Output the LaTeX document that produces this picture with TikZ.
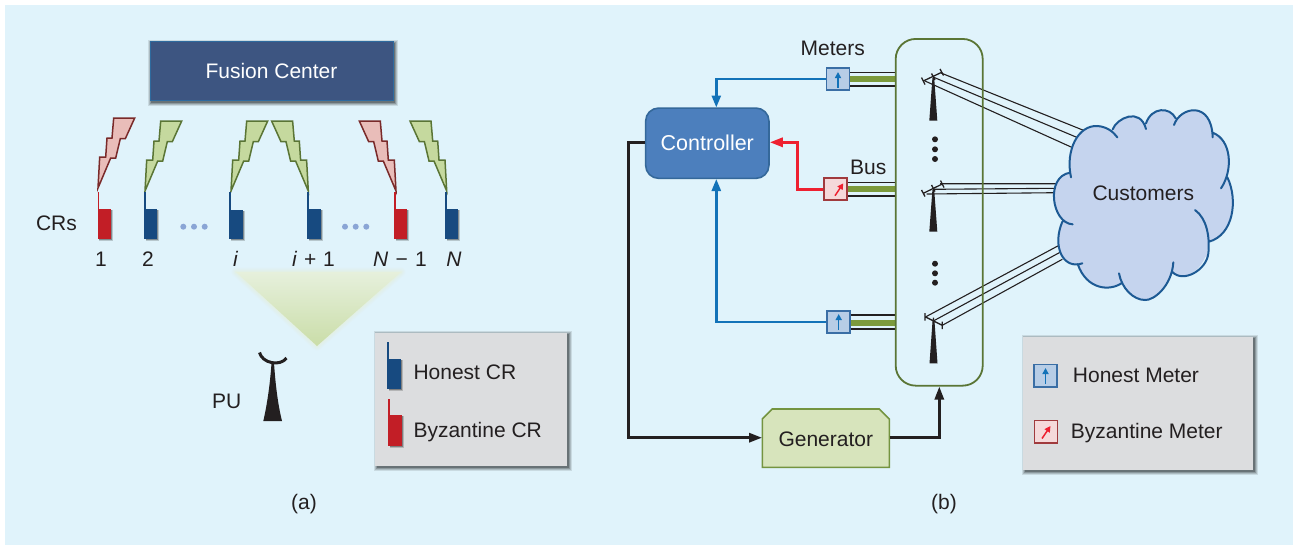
\documentclass[tikz,border=0pt]{standalone}
\usepackage{fontspec}
\setmainfont{Liberation Sans}
\usetikzlibrary{arrows.meta,calc}
\definecolor{panel}{HTML}{E0F3FB}
\definecolor{ink}{HTML}{231F20}
\definecolor{crblue}{HTML}{174A80}
\definecolor{crred}{HTML}{C21E26}
\definecolor{dotblue}{HTML}{8AA5D5}
\definecolor{fcfill}{HTML}{3D5581}
\definecolor{fcdraw}{HTML}{2E6A9E}
\definecolor{boltgf}{HTML}{C5D99E}
\definecolor{boltgd}{HTML}{5A7535}
\definecolor{boltrf}{HTML}{E9BDB9}
\definecolor{boltrd}{HTML}{7A2A2A}
\definecolor{legendgray}{HTML}{DCDDDF}
\definecolor{mhf}{HTML}{B7CDE6}
\definecolor{mhd}{HTML}{3A6EA5}
\definecolor{mbf}{HTML}{F5D9DA}
\definecolor{mbd}{HTML}{A03A3D}
\definecolor{wireblue}{HTML}{1272B8}
\definecolor{wirered}{HTML}{EE2030}
\definecolor{busgreen}{HTML}{7C9A3C}
\definecolor{ctrlfill}{HTML}{4C7FBD}
\definecolor{ctrldraw}{HTML}{34689A}
\definecolor{genfill}{HTML}{D7E4BC}
\definecolor{gendraw}{HTML}{749440}
\definecolor{cloudfill}{HTML}{C5D4EE}
\definecolor{clouddraw}{HTML}{1D5A94}
\definecolor{beamtop}{HTML}{E6F0DC}
\definecolor{beambot}{HTML}{CADDA8}
\tikzset{
  lab/.style={font=\fontsize{21}{25}\selectfont,text=ink,inner sep=0pt},
  meterh/.style={draw=mhd,fill=mhf,line width=1.8pt,minimum width=23pt,minimum height=22.5pt,inner sep=0pt},
  meterb/.style={draw=mbd,fill=mbf,line width=1.8pt,minimum width=23pt,minimum height=22.5pt,inner sep=0pt},
  upa/.style={wireblue,line width=1.5pt,-{Triangle[length=6pt,width=6pt]}},
  diaga/.style={wirered,line width=1.5pt,-{Triangle[length=6pt,width=6pt]}},
  busline/.style={ink,line width=1.1pt},
  busthick/.style={busgreen,line width=6pt},
  wireb/.style={wireblue,line width=2.5pt,-{Triangle[length=12pt,width=9pt]}},
  wirer/.style={wirered,line width=3pt,-{Triangle[length=13pt,width=9pt]}},
  wirek/.style={ink,line width=2.8pt,-{Triangle[length=13pt,width=9pt]}},
  linewire/.style={ink,line width=1.1pt},
  arm/.style={ink,line width=1.3pt},
}
\newcommand{\softshadow}[4]{%
  \foreach \w/\op in {3.5/.10,2.5/.14,1.5/.18,.5/.25}{
    \fill[black,opacity=\op] ($(#1,#2)+(-\w+1.5,-\w+1.5)$) rectangle ($(#3,#4)+(\w+1.5,\w+1.5)$);
  }}
% device: left x, antenna top y, body top y, bottom y, colour
\newcommand{\device}[5]{%
  \foreach \w/\op in {2.2/.18,1.2/.3}{
    \fill[black,opacity=\op] (#1+1.5,#3+1) rectangle (#1+13.2+\w,#4+\w);}
  \fill[#5] (#1,#3) rectangle (#1+13.2,#4);
  \fill[#5] (#1,#2) rectangle (#1+1.7,#3);
}
% bolt: tip x, tip y, direction (+1 or -1), fill, draw
\newcommand{\bolt}[5]{%
  \draw[fill=#4,draw=#5,line width=1.5pt,line join=miter,shift={(#1,#2)},xscale=#3]
   (0,0)--(1.7,-31)--(7.7,-31)--(9,-50)--(14,-50)--(15.7,-70)--(36.7,-70)
   --(27.3,-49.3)--(22.3,-49.3)--(17.7,-30)--(12.7,-30)--cycle;
}
\newcommand{\tower}[3]{% top x, top y, base y
  \fill[ink] (#1-.9,#2) -- (#1+.9,#2) -- (#1+4,#3) -- (#1-4,#3) -- cycle;
}
\begin{document}
\begin{tikzpicture}[x=1pt,y=-1pt]
\useasboundingbox (0,0) rectangle (1297,546);
\fill[white] (0,0) rectangle (1297,546);
\fill[panel] (5,5) rectangle (1293,545);

% ---------- panel (a)
\softshadow{150}{42}{393}{101}
\node[draw=fcdraw,fill=fcfill,line width=1pt,minimum width=243pt,minimum height=59pt,inner sep=0pt,
      font=\fontsize{21}{25}\selectfont,text=white] (fc) at (271.5,71) {Fusion Center};

\bolt{98}{188}{1}{boltrf}{boltrd}
\bolt{145}{191}{1}{boltgf}{boltgd}
\bolt{231}{191}{1}{boltgf}{boltgd}
\bolt{308.3}{191}{-1}{boltgf}{boltgd}
\bolt{396}{191}{-1}{boltrf}{boltrd}
\bolt{446.7}{191}{-1}{boltgf}{boltgd}

\device{97.7}{192}{209}{239}{crred}
\device{144}{192}{209}{239}{crblue}
\device{229.3}{192}{209.5}{239}{crblue}
\device{307.3}{192}{209}{239}{crblue}
\device{394}{192}{209}{239}{crred}
\device{445}{192}{209}{239}{crblue}

\foreach \x in {183.3,194,204.7,345,355.7,366.3}{\fill[dotblue] (\x,226.7) circle (3);}

\node[lab] (crs) at (56.5,223) {CRs};
\node[lab] (n1) at (101,259) {1};
\node[lab] (n2) at (148,259) {2};
\node[lab] (ni) at (235.7,259) {\textit{i}};
\node[lab] (nip) at (313.5,259) {\textit{i}\hspace{1pt} + \hspace{1pt}1};
\node[lab] (nNm) at (400,259) {\textit{N}\hspace{1.5pt} − \hspace{1.5pt}1};
\node[lab] (nN) at (454,259) {\textit{N}};

% beam
\foreach \w/\op in {9/.10,7/.14,5/.18,3/.24,1.5/.3}{
  \draw[line join=round,line width=\w pt,draw=beamtop,opacity=\op] (236,272)--(401,272)--(317,346)--cycle;}
\shade[top color=beamtop,bottom color=beambot] (236,272)--(401,272)--(317,346)--cycle;

% PU
\draw[ink,line width=3pt] (259.5,352.5) .. controls (262,363) and (280,367) .. (286.5,358);
\fill[ink] (271.5,363) -- (274,363) .. controls (275.5,385) and (278,405) .. (282,421) -- (263.3,421) .. controls (267,405) and (270,385) .. (271.5,363) -- cycle;
\node[lab] (pu) at (226.7,401.7) {PU};

% legend a
\softshadow{375.5}{333}{567}{466}
\fill[legendgray] (375,332.7) rectangle (567,466);
\device{387.3}{341.7}{358.7}{389}{crblue}
\device{388.3}{399}{415.3}{445.7}{crred}
\node[lab,anchor=west] (lh) at (413.3,372.3) {Honest CR};
\node[lab,anchor=west] (lb) at (413.3,431.7) {Byzantine CR};

\node[lab] (capa) at (304,504) {(a)};
\node[lab] (capb) at (944,504) {(b)};

% ---------- panel (b)
% bus lines
\draw[busline] (850,72.3)--(895.7,72.3) (850,86)--(895.7,86);
\draw[busthick] (850,79.3)--(895.7,79.3);
\draw[busline] (847,182.3)--(895.7,182.3) (847,196)--(895.7,196);
\draw[busthick] (847,189.3)--(895.7,189.3);
\draw[busline] (850,315)--(895.7,315) (850,329)--(895.7,329);
\draw[busthick] (850,322.7)--(895.7,322.7);

% power lines
\draw[linewire] (941,73)--(1082.7,130) (933,77)--(1076.7,137.3) (925,81)--(1071.7,147.3);
\draw[linewire] (940,183.7)--(1058.3,183.7) (933,189.3)--(1056.7,188.3) (926.7,194)--(1056,192.7);
\draw[linewire] (926,316.7)--(1058.3,245.7) (933.3,321)--(1060,252.3) (942.3,325.3)--(1062.3,259.3);

\node[draw=boltgd,line width=1.8pt,rounded corners=20pt,minimum width=87pt,minimum height=346.7pt,inner sep=0pt] (bus) at (939.2,212.3) {};

% towers
\tower{933.3}{78}{120.7}
\tower{933.3}{190}{231.7}
\tower{933.5}{320}{363.3}
\draw[arm] (923.3,81)--(941.7,72.3) (921.5,77.5)--(925,84.5) (940,69)--(943.5,75.5) (931.5,73.5)--(935,80);
\draw[arm] (923.3,193.3)--(942.3,184) (921.5,190)--(925,196.5) (940.5,180.5)--(944,187.5) (931.5,185)--(935,191.5);
\draw[arm] (925,316.7)--(942.3,325.3) (925,313)--(925,320.5) (942.3,321.5)--(942.3,329) (933.5,317.5)--(933.5,325);

\foreach \y in {139.3,149.3,159,263.7,273.3,282.7}{\fill[ink] (935,\y) circle (3);}

% meters
\node[meterh] (m1) at (838,79) {};
\node[meterb] (m2) at (835.3,189) {};
\node[meterh] (m3) at (838.7,322) {};
\draw[upa] (838,87.7)--(838,72);
\draw[diaga] (835,195.7)--(843.3,183.3);
\draw[upa] (838.7,330)--(838.7,314);

\node[lab] (meters) at (832.8,48.3) {Meters};
\node[lab] (busl) at (868.3,167.3) {Bus};

% controller
\node[draw=ctrldraw,fill=ctrlfill,line width=1.6pt,rounded corners=13pt,minimum width=123.3pt,minimum height=70.3pt,
  inner sep=0pt,font=\fontsize{21.5}{25}\selectfont,text=white] (ctrl) at (707.3,143.2) {Controller};

% generator
\draw[fill=genfill,draw=gendraw,line width=1.6pt] (762.3,467.3)--(762.3,419)--(772.3,409)--(879.3,409)--(889.3,419)--(889.3,467.3)--cycle;
\node[lab,minimum width=127pt,minimum height=58pt] (gen) at (825.8,439) {Generator};

% connectors
\coordinate (ctop) at (716.3,107.5);
\coordinate (cbot) at (716.3,179);
\coordinate (bustip) at (939.3,386.5);
\coordinate (kbend) at (628.3,437.7);
\draw[wireb] (m1.west) -| (ctop);
\draw[wireb] (m3.west) -| (cbot);
\draw[wirer] (m2.west) -| (797.7,142.3) -- (ctrl.east |- 0,142.3);
\draw[wirek] (ctrl.west |- 0,142.7) -| (kbend) -- (gen.west |- kbend);
\draw[wirek] (gen.east |- kbend) -| (bustip);

% cloud
\begin{scope}[xshift=1010pt,yshift=-90pt,x=.33333pt,y=-.33333pt]
\fill[cloudfill] (183,262) .. controls (165,180) and (205,105) .. (262,108) .. controls (290,110) and (310,125) .. (322,142)
 -- (308,118) .. controls (320,85) and (390,50) .. (408,117)
 -- (408,100) .. controls (425,50) and (480,50) .. (497,85)
 -- (492,105) .. controls (510,50) and (605,30) .. (608,142)
 -- (608,128) .. controls (665,150) and (670,240) .. (633,295)
 -- (652,262) .. controls (685,330) and (670,435) .. (597,455)
 .. controls (590,540) and (520,580) .. (487,546)
 -- (490,517) .. controls (485,590) and (430,632) .. (405,630) .. controls (370,630) and (335,595) .. (327,550)
 -- (337,578) .. controls (300,605) and (230,600) .. (203,522)
 -- (217,520) .. controls (160,540) and (125,470) .. (157,395)
 -- (188,403) .. controls (125,400) and (105,260) .. (180,248) -- cycle;
\fill[cloudfill] (300,200) rectangle (590,500);
\draw[clouddraw,line width=2pt,line cap=round]
    (183,262) .. controls (165,180) and (205,105) .. (262,108) .. controls (290,110) and (310,125) .. (322,142)
    (308,118) .. controls (320,85) and (390,50) .. (408,117)
    (408,100) .. controls (425,50) and (480,50) .. (497,85)
    (492,105) .. controls (510,50) and (605,30) .. (608,142)
    (608,128) .. controls (665,150) and (670,240) .. (633,295)
    (652,262) .. controls (685,330) and (670,435) .. (597,455)
    (555,360) .. controls (590,385) and (600,440) .. (595,490) .. controls (590,540) and (520,580) .. (487,546)
    (490,517) .. controls (485,590) and (430,632) .. (405,630) .. controls (370,630) and (335,595) .. (327,550)
    (337,578) .. controls (300,605) and (230,600) .. (203,522)
    (217,520) .. controls (160,540) and (125,470) .. (157,395)
    (188,403) .. controls (125,400) and (105,260) .. (180,248);
\end{scope}
\node[lab] (cust) at (1143.3,193.3) {Customers};

% legend b
\softshadow{1023.5}{337}{1253}{470}
\fill[legendgray] (1023.3,336.7) rectangle (1253.3,470);
\node[meterh] (lm1) at (1045.5,375.8) {};
\node[meterb] (lm2) at (1046,431.7) {};
\draw[upa] (1045.5,384)--(1045.5,368);
\draw[diaga] (1042,438.5)--(1050.5,426);
\node[lab,anchor=west] (lmh) at (1072.7,375.7) {Honest Meter};
\node[lab,anchor=west] (lmb) at (1070.7,432.7) {Byzantine Meter};
\end{tikzpicture}
\end{document}
